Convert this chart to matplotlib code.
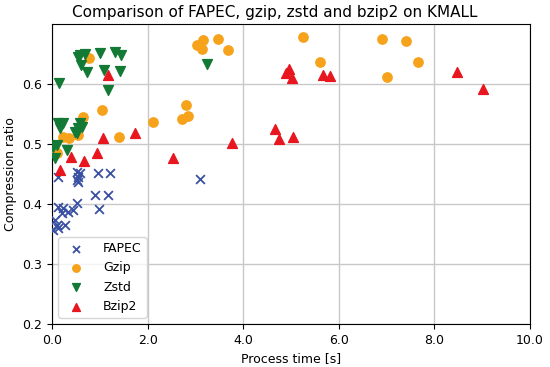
import numpy as np
import matplotlib
matplotlib.use('Agg')
import matplotlib.pyplot as plt
from matplotlib.ticker import FormatStrFormatter

# FAPEC
fapec_t = [0.13, 0.52, 0.54, 0.52, 0.59, 0.54, 0.96, 1.21, 0.90, 1.17, 0.98, 0.52,
           0.13, 0.23, 0.33, 0.44, 0.21, 0.06, 0.10, 0.27, 0.13, 0.02, 3.10]
fapec_r = [0.445, 0.453, 0.445, 0.440, 0.452, 0.437, 0.452, 0.452, 0.415, 0.415, 0.392, 0.402,
           0.395, 0.393, 0.387, 0.390, 0.385, 0.373, 0.365, 0.365, 0.360, 0.357, 0.442]

# Gzip
gzip_t = [0.10, 0.05, 0.23, 0.36, 0.54, 0.65, 1.05, 1.40, 0.77, 2.11, 2.72, 2.85,
          2.80, 3.03, 3.16, 3.14, 3.47, 3.68, 5.25, 5.61, 6.90, 7.41, 7.66, 7.01]
gzip_r = [0.485, 0.492, 0.512, 0.510, 0.515, 0.545, 0.557, 0.512, 0.643, 0.537, 0.542, 0.547,
          0.565, 0.665, 0.673, 0.658, 0.675, 0.657, 0.678, 0.637, 0.675, 0.672, 0.637, 0.612]

# Zstd
zstd_t = [0.59, 0.69, 0.54, 1.00, 1.32, 1.44, 0.61, 0.73, 1.09, 1.42, 0.15, 1.17, 3.24,
          0.13, 0.23, 0.17, 0.48, 0.54, 0.59, 0.63, 0.52, 0.10, 0.02, 0.31, 0.06]
zstd_r = [0.648, 0.650, 0.645, 0.652, 0.653, 0.648, 0.632, 0.620, 0.623, 0.622, 0.602, 0.590, 0.633,
          0.535, 0.535, 0.527, 0.520, 0.527, 0.535, 0.528, 0.518, 0.498, 0.495, 0.490, 0.476]

# Bzip2
bzip2_t = [0.17, 0.40, 0.67, 0.94, 1.07, 1.17, 1.74, 2.53, 3.77, 4.67, 4.75, 5.04,
           4.90, 4.96, 5.02, 5.67, 5.82, 8.47, 9.02]
bzip2_r = [0.457, 0.478, 0.472, 0.485, 0.510, 0.615, 0.519, 0.477, 0.502, 0.525, 0.508, 0.512,
           0.618, 0.625, 0.610, 0.615, 0.613, 0.620, 0.592]

fig = plt.figure(figsize=(5.5, 3.67), dpi=100)
ax = fig.add_axes([0.0945, 0.117, 0.869, 0.818])

ax.scatter(fapec_t, fapec_r, marker='x', color='#3a50a2', s=40, linewidths=1.3, label='FAPEC', zorder=3)
ax.scatter(gzip_t, gzip_r, marker='o', color='#f7a21b', s=45, label='Gzip', zorder=3)
ax.scatter(zstd_t, zstd_r, marker='v', color='#137a36', s=50, label='Zstd', zorder=3)
ax.scatter(bzip2_t, bzip2_r, marker='^', color='#e8161f', s=50, label='Bzip2', zorder=3)

ax.set_xlim(0, 10)
ax.set_ylim(0.2, 0.7)
ax.set_xticks(np.arange(0, 11, 2))
ax.set_yticks([0.2, 0.3, 0.4, 0.5, 0.6])
ax.xaxis.set_major_formatter(FormatStrFormatter('%.1f'))
ax.grid(True, color='#c8c8c8', linewidth=1)
ax.set_axisbelow(True)
ax.tick_params(labelsize=9)

ax.set_xlabel('Process time [s]', fontsize=9)
ax.set_ylabel('Compression ratio', fontsize=9)
# title is centred on the figure, not on the axes
fig.suptitle('Comparison of FAPEC, gzip, zstd and bzip2 on KMALL', fontsize=11,
             x=0.5, y=0.967, va='center')
ax.legend(loc='lower left', fontsize=9, markerscale=0.8, handletextpad=1.2)

fig.savefig('out.png', dpi=100)
